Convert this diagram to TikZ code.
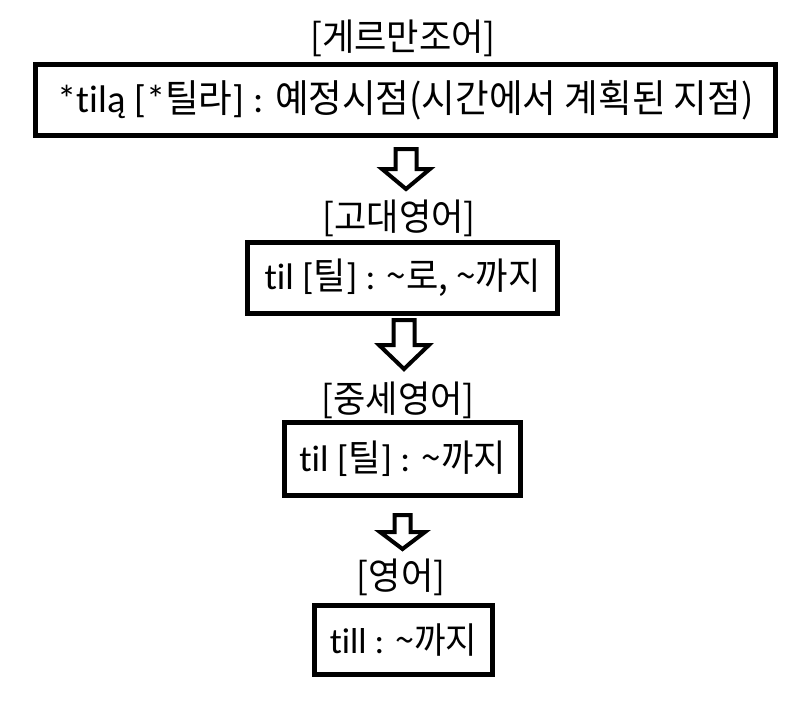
\documentclass[tikz,border=0pt]{standalone}
\usepackage{fontspec}
\setmainfont{Carlito}[Ligatures={NoCommon}]
\newfontfamily\krfont[FakeStretch=0.95]{Noto Sans CJK KR}
\newcommand\kr[1]{{\krfont #1}}
\newcommand\blockarrow[6]{% cx, top, shaft half, head start, head half, tip
  \draw[arrowline] (#1-#3,#2) -- (#1+#3,#2) -- (#1+#3,#4) -- (#1+#5,#4) -- (#1,#6)
    -- (#1-#5,#4) -- (#1-#3,#4) -- cycle;}
\tikzset{
  box/.style={draw=black, line width=5pt, inner sep=0pt, fill=white},
  lbl/.style={inner sep=0pt, font=\krfont\fontsize{37}{42}\selectfont},
  arrowline/.style={draw=black, line width=4pt, fill=white}
}
\begin{document}
\begin{tikzpicture}[x=1pt, y=-1pt]
\useasboundingbox (0,0) rectangle (807,720);
\fill[white] (0,0) rectangle (807,720);
% labels
\node[lbl] (l1) at (403,38) {[게르만조어]};
\node[lbl] (l2) at (399,218) {[고대영어]};
\node[lbl] (l3) at (398,400) {[중세영어]};
\node[lbl] (l4) at (401,577) {[영어]};
% boxes
\node[box, minimum width=740pt, minimum height=71pt, font=\fontsize{38.5}{46}\selectfont] (b1) at (405.5,100)
  {*tilą [*\kr{틸라}] : \kr{예정시점(시간에서 계획된 지점)}};
\node[box, minimum width=310pt, minimum height=71pt, font=\fontsize{37}{42}\selectfont] (b2) at (402.5,278)
  {til [\kr{틸}] : \kr{\textasciitilde 로, \textasciitilde 까지}};
\node[box, minimum width=236pt, minimum height=73pt, font=\fontsize{37}{42}\selectfont] (b3) at (402.5,459)
  {til [\kr{틸}] : \kr{\textasciitilde 까지}};
\node[box, minimum width=178pt, minimum height=69pt, font=\fontsize{36}{42}\selectfont] (b4) at (403.5,640)
  {till : \kr{\textasciitilde 까지}};
% block arrows
\blockarrow{406}{149}{10.5}{169}{24}{189}
\blockarrow{404}{320}{10.5}{345}{25}{369}
\blockarrow{402.5}{515}{8}{532}{22.5}{549}
\end{tikzpicture}
\end{document}
